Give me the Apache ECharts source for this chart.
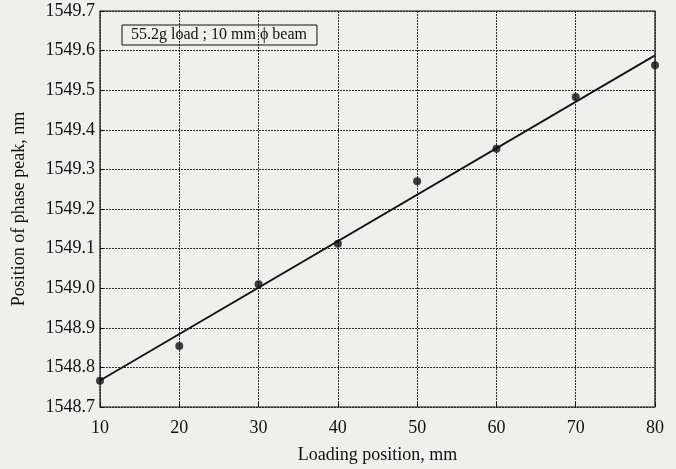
<!DOCTYPE html>
<html><head><meta charset="utf-8">
<script src="https://cdn.jsdelivr.net/npm/echarts@6/dist/echarts.min.js"></script>
<style>html,body{margin:0;padding:0;background:#efefed;}#c{width:676px;height:469px;}</style>
</head><body><div id="c"></div>
<script>
const xValues = [10, 20, 30, 40, 50, 60, 70, 80];
const peakValues = [1548.766, 1548.854, 1549.010, 1549.112, 1549.270, 1549.352, 1549.483, 1549.563];
const fitX = [10, 80];
const fitY = [1548.767, 1549.588];
const legendText = '55.2g load ; 10 mm \u03d5 beam';
const xTitle = 'Loading position, mm';
const yTitle = 'Position of phase peak, nm';

const font = 'Liberation Serif';
const chart = echarts.init(document.getElementById('c'), null, {renderer: 'canvas'});
chart.setOption({
  backgroundColor: '#efefed',
  animation: false,
  grid: {left: 100, right: 21, top: 11, bottom: 62, show: true, borderColor: '#111', borderWidth: 1.2,
    backgroundColor: 'transparent', containLabel: false, outerBoundsMode: 'none'},
  legend: {
    show: true, left: 122, top: 25, width: 196, height: 20,
    data: [{name: legendText, icon: 'none'}],
    itemWidth: 0, itemGap: 0,
    padding: [2, 10, 2, 4],
    borderColor: '#111', borderWidth: 1,
    textStyle: {fontFamily: font, fontSize: 16, color: '#111'}
  },
  xAxis: {
    type: 'value', min: 10, max: 80, interval: 10,
    name: xTitle, nameLocation: 'middle', nameGap: 39,
    nameTextStyle: {fontFamily: font, fontSize: 18, color: '#111'},
    axisLine: {show: false},
    axisTick: {show: true, inside: true, length: 4, lineStyle: {color: '#111'}},
    axisLabel: {fontFamily: font, fontSize: 18, color: '#111', margin: 12},
    splitLine: {show: true, lineStyle: {color: '#2a2a2a', width: 1, type: [2, 1]}}
  },
  yAxis: {
    type: 'value', min: 1548.7, max: 1549.7, interval: 0.1,
    name: yTitle, nameLocation: 'middle', nameGap: 72,
    nameTextStyle: {fontFamily: font, fontSize: 18, color: '#111'},
    axisLine: {show: false},
    axisTick: {show: true, inside: true, length: 4, lineStyle: {color: '#111'}},
    axisLabel: {fontFamily: font, fontSize: 18, color: '#111', margin: 5,
      formatter: v => v.toFixed(1)},
    splitLine: {show: true, lineStyle: {color: '#2a2a2a', width: 1, type: [2, 1]}}
  },
  series: [
    {
      name: legendText, type: 'line',
      data: fitX.map((x, i) => [x, fitY[i]]),
      showSymbol: false, symbol: 'none',
      lineStyle: {color: '#111', width: 1.8}
    },
    {
      type: 'scatter',
      data: xValues.map((x, i) => [x, peakValues[i]]),
      symbol: 'circle', symbolSize: 8,
      itemStyle: {color: '#111'}
    }
  ]
});
</script></body></html>
